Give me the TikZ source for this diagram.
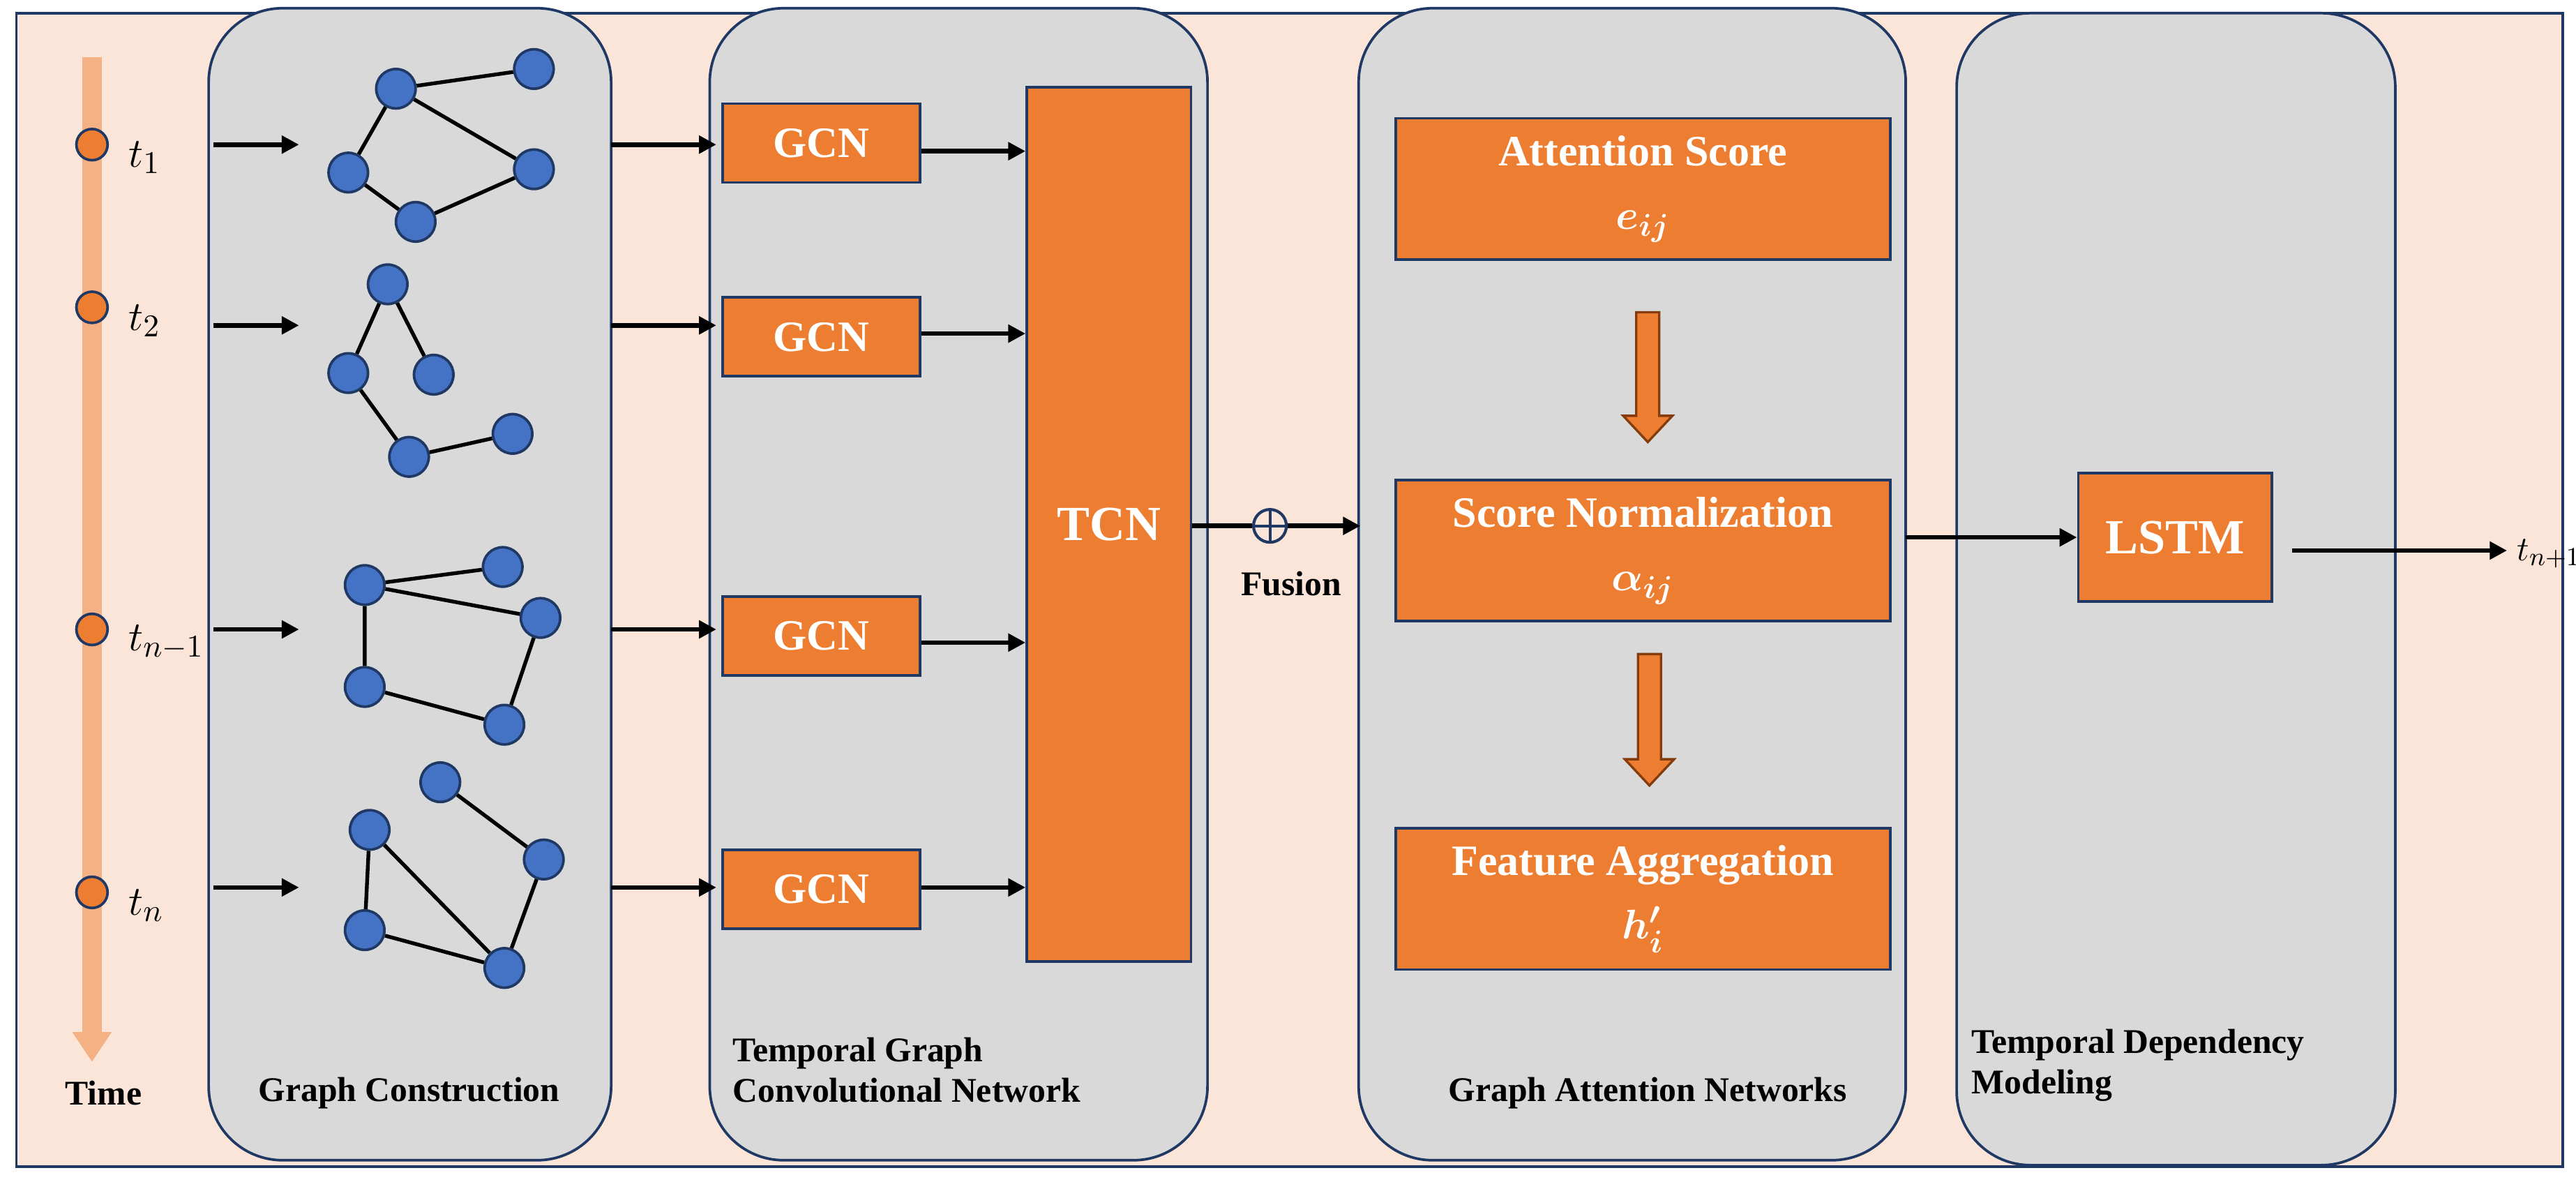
\documentclass[tikz,border=0pt]{standalone}
\usepackage{fontspec}
\usepackage{amsmath,bm}
\setmainfont{Liberation Serif}
\usetikzlibrary{arrows.meta}
\definecolor{peach}{HTML}{FAE5D8}
\definecolor{navy}{HTML}{1F3864}
\definecolor{orng}{HTML}{ED7D31}
\definecolor{lorng}{HTML}{F4B183}
\definecolor{panelgray}{HTML}{D9D9D9}
\definecolor{gblue}{HTML}{4472C4}
\definecolor{darkor}{HTML}{843C0C}
\begin{document}
\begin{tikzpicture}[x=0.02cm,y=-0.02cm,
  panel/.style={draw=navy,line width=0.9pt,fill=panelgray,rounded corners=0.9cm},
  box/.style={draw=navy,line width=0.9pt,fill=orng,text=white,font=\fontsize{15}{18}\selectfont\bfseries,align=center,inner sep=0pt},
  gn/.style={circle,draw=navy,line width=0.9pt,fill=gblue,minimum size=0.48cm,inner sep=0pt},
  tn/.style={circle,draw=navy,line width=0.9pt,fill=orng,minimum size=0.38cm,inner sep=0pt},
  ge/.style={line width=1.3pt},
  ar/.style={-{Triangle[length=6pt,width=6pt]},line width=1.6pt},
  lbl/.style={font=\fontsize{12}{14}\selectfont\bfseries,align=left},
  blk/.style={draw=darkor,line width=0.8pt,fill=orng}]
\useasboundingbox (0,0) rectangle (1568,719);
\draw[navy,line width=0.9pt,fill=peach] (10,8) rectangle (1560,710);
% time bar
\fill[lorng] (50,35) rectangle (62,628);
\fill[lorng] (44,628) -- (68,628) -- (56,646) -- cycle;
\node[lbl] (time) at (63,665) {Time};
% panels
\draw[panel] (127,5) rectangle (372,706);
\draw[panel] (432,5) rectangle (735,706);
\draw[panel] (827,5) rectangle (1160,706);
\draw[panel] (1191,8) rectangle (1458,709);
% time points
\foreach \n/\y/\t in {1/88/t_1,2/187/t_2,3/383/t_{n-1},4/543/t_n}{
  \node[tn] (c\n) at (56,\y) {};
  \node[anchor=west,font=\fontsize{15}{18}\selectfont] (tl\n) at (72,\y+8) {$\t$};
}
% input arrows
\foreach \n/\y in {1/88,2/198,3/383,4/540}{
  \coordinate (ia\n) at (130,\y); \coordinate (ib\n) at (182,\y);
  \draw[ar] (ia\n) -- (ib\n);
  \coordinate (oa\n) at (372,\y); \coordinate (ob\n) at (436,\y);
  \draw[ar] (oa\n) -- (ob\n);
}
% graph 1
\node[gn] (a1) at (241,54) {}; \node[gn] (a2) at (325,42) {};
\node[gn] (a3) at (212,105) {}; \node[gn] (a4) at (325,103) {};
\node[gn] (a5) at (253,135) {};
\draw[ge] (a1)--(a2) (a1)--(a3) (a1)--(a4) (a3)--(a5) (a5)--(a4);
% graph 2
\node[gn] (b1) at (236,173) {}; \node[gn] (b2) at (212,227) {};
\node[gn] (b3) at (264,228) {}; \node[gn] (b4) at (249,278) {};
\node[gn] (b5) at (312,264) {};
\draw[ge] (b1)--(b2) (b1)--(b3) (b2)--(b4) (b4)--(b5);
% graph 3
\node[gn] (d1) at (222,356) {}; \node[gn] (d2) at (306,345) {};
\node[gn] (d3) at (329,376) {}; \node[gn] (d4) at (222,418) {};
\node[gn] (d5) at (307,441) {};
\draw[ge] (d1)--(d2) (d1)--(d3) (d1)--(d4) (d4)--(d5) (d3)--(d5);
% graph 4
\node[gn] (f1) at (268,476) {}; \node[gn] (f2) at (225,505) {};
\node[gn] (f3) at (331,523) {}; \node[gn] (f4) at (222,566) {};
\node[gn] (f5) at (307,589) {};
\draw[ge] (f1)--(f3) (f2)--(f4) (f2)--(f5) (f3)--(f5) (f4)--(f5);
\node[lbl] (l1) at (249,665) {Graph Construction};
% GCN
\foreach \n/\y in {1/87,2/205,3/387,4/541}{
  \node[box,minimum width=2.4cm,minimum height=0.96cm] (g\n) at (500,\y) {GCN};
}
\node[box,minimum width=2cm,minimum height=10.64cm,font=\fontsize{17}{20}\selectfont\bfseries] (tcn) at (675,319) {TCN};
\foreach \n/\y in {1/92,2/203,3/391,4/540}{
  \draw[ar] (g\n.east|-0,\y) -- (tcn.west|-0,\y);
}
\node[lbl,anchor=north west] (l2) at (440,625) {Temporal Graph\\Convolutional Network};
% fusion
\node[circle,draw=navy,line width=1pt,minimum size=0.4cm,inner sep=0pt] (fu) at (773,320) {};
\draw[line width=1pt,navy] (fu.north)--(fu.south) (fu.west)--(fu.east);
\draw[line width=1.6pt] (tcn.east|-fu) -- (fu.west);
\coordinate (gin) at (828,320);
\draw[ar] (fu.east) -- (gin);
\node[lbl] (fl) at (786,355) {Fusion};
% GAT
\node[box,minimum width=6.02cm,minimum height=1.72cm,font=\fontsize{15}{22}\selectfont\bfseries] (att) at (1000,115) {Attention Score\\$\bm{e_{ij}}$};
\node[box,minimum width=6.02cm,minimum height=1.72cm,font=\fontsize{15}{22}\selectfont\bfseries] (nrm) at (1000,335) {Score Normalization\\$\bm{\alpha_{ij}}$};
\node[box,minimum width=6.02cm,minimum height=1.72cm,font=\fontsize{15}{22}\selectfont\bfseries] (agg) at (1000,547) {Feature Aggregation\\$\bm{h'_{i}}$};
\draw[blk] (996,190) -- (1010,190) -- (1010,253) -- (1018,253) -- (1003,269) -- (988,253) -- (996,253) -- cycle;
\draw[blk] (997,398) -- (1011,398) -- (1011,462) -- (1019,462) -- (1004,478) -- (989,462) -- (997,462) -- cycle;
\node[lbl] (l3) at (1003,665) {Graph Attention Networks};
% LSTM
\node[box,minimum width=2.36cm,minimum height=1.56cm,font=\fontsize{17}{20}\selectfont\bfseries] (lstm) at (1324,327) {LSTM};
\coordinate (gout) at (1160,327);
\draw[ar] (gout) -- (lstm.west);
\node[anchor=west,inner sep=1pt,font=\fontsize{13}{16}\selectfont] (tn1) at (1530,337) {$t_{n+1}$};
\draw[ar] (1395,335) -- (1526,335);
\node[lbl,anchor=north west] (l4) at (1194,620) {Temporal Dependency\\Modeling};
\end{tikzpicture}
\end{document}
